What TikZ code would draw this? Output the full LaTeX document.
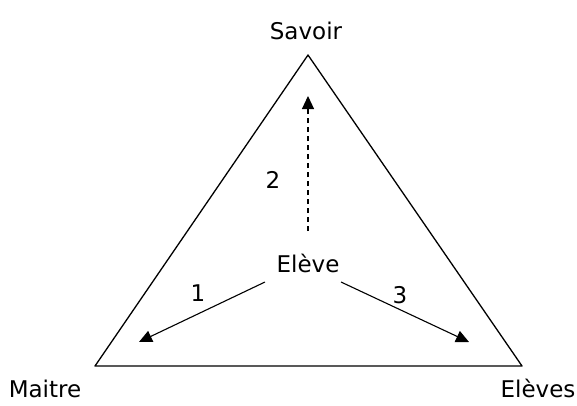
\documentclass[tikz,border=0pt]{standalone}
\usepackage{fontspec}
\setmainfont{DejaVu Sans}
\usetikzlibrary{arrows.meta}
\begin{document}
\begin{tikzpicture}[x=1pt,y=-1pt,
  lbl/.style={font=\fontsize{23}{25}\selectfont, inner sep=0pt},
  tri/.style={line width=1.3pt, line join=round},
  arr/.style={line width=1.1pt, -{Triangle[length=13pt,width=12pt]}}]
\useasboundingbox[fill=white] (0,0) rectangle (577,405);
\coordinate (S) at (308,55);
\coordinate (M) at (95,366);
\coordinate (E) at (522,366);
\draw[tri] (S) -- (E) -- (M) -- cycle;
\node[lbl] (savoir) at (306,31) {Savoir};
\node[lbl] (maitre) at (45,389) {Maitre};
\node[lbl] (eleves) at (538,388) {Elèves};
\node[lbl] (eleve) at (308,263) {Elève};
\coordinate (a2s) at (308,231);
\coordinate (a2e) at (308,96);
\coordinate (a1s) at (265,282);
\coordinate (a1e) at (139,342);
\coordinate (a3s) at (341,282);
\coordinate (a3e) at (469,342);
\draw[arr, dashed, dash pattern=on 5pt off 4pt] (a2s) -- (a2e);
\draw[arr] (a1s) -- (a1e);
\draw[arr] (a3s) -- (a3e);
\node[lbl] (n2) at (273,180) {2};
\node[lbl] (n1) at (198,293) {1};
\node[lbl] (n3) at (400,295) {3};
\end{tikzpicture}
\end{document}
